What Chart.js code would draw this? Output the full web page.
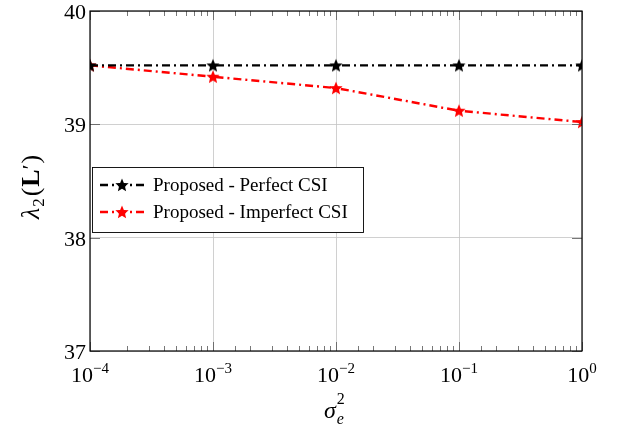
<!DOCTYPE html>
<html lang="en">
<head>
<meta charset="UTF-8">
<title>lambda2 vs sigma_e^2</title>
<script src="https://cdn.jsdelivr.net/npm/chart.js"></script>
<style>
  html, body { margin: 0; padding: 0; background: #fff; }
  #wrap { width: 619px; height: 430px; }
</style>
</head>
<body>
<div id="wrap"><canvas id="chart"></canvas></div>
<script>
// data
const sigmaVals = [1e-4, 1e-3, 1e-2, 1e-1, 1];
const perfectCSI = [39.52, 39.52, 39.52, 39.52, 39.52];
const imperfectCSI = [39.52, 39.42, 39.32, 39.12, 39.02];
const seriesNames = ['Proposed - Perfect CSI', 'Proposed - Imperfect CSI'];
const seriesColors = ['#000000', '#ff0000'];

const SERIF = '"Liberation Serif", "DejaVu Serif", serif';

// filled five point star used as point marker
function makeStar(color, r) {
    let s = Math.ceil(r * 2 + 2);
    let c = document.createElement('canvas');
    c.width = s; c.height = s;
    let g = c.getContext('2d');
    g.fillStyle = color;
    g.beginPath();
    for (let i = 0; i < 10; i++) {
        let a = -Math.PI / 2 + i * Math.PI / 5;
        let rad = (i % 2) ? r * 0.45 : r;
        let px = s / 2 + rad * Math.cos(a), py = s / 2 + 0.5 + rad * Math.sin(a);
        if (i === 0) g.moveTo(px, py); else g.lineTo(px, py);
    }
    g.closePath();
    g.fill();
    return c;
}
const stars = seriesColors.map(c => makeStar(c, 7));
const dashDot = [8, 4, 2, 4];

function isDecade(v) {
    let l = Math.log10(v);
    return Math.abs(l - Math.round(l)) < 1e-9;
}

// draw a run of [text, font, dy] pieces starting at x
function drawPieces(g, pieces, x, y) {
    pieces.forEach(p => {
        g.font = p[1];
        g.fillText(p[0], x, y + (p[2] || 0));
        x += g.measureText(p[0]).width + (p[3] || 0);
    });
}
function piecesWidth(g, pieces) {
    let w = 0;
    pieces.forEach(p => { g.font = p[1]; w += g.measureText(p[0]).width + (p[3] || 0); });
    return w;
}

const decorPlugin = {
    id: 'decor',
    afterDraw(chart) {
        let g = chart.ctx;
        let a = chart.chartArea;
        let xs = chart.scales.x, ys = chart.scales.y;
        g.save();

        // tick marks (inside, both sides)
        g.strokeStyle = '#555';
        g.lineWidth = 0.8;
        xs.ticks.forEach(t => {
            let px = Math.round(xs.getPixelForValue(t.value)) + 0.5;
            let len = isDecade(t.value) ? 9 : 5;
            g.beginPath();
            g.moveTo(px, a.bottom); g.lineTo(px, a.bottom - len);
            g.moveTo(px, a.top); g.lineTo(px, a.top + len);
            g.stroke();
        });
        ys.ticks.forEach(t => {
            let py = Math.round(ys.getPixelForValue(t.value)) + 0.5;
            g.beginPath();
            g.moveTo(a.left, py); g.lineTo(a.left + 10, py);
            g.moveTo(a.right, py); g.lineTo(a.right - 10, py);
            g.stroke();
        });

        // frame
        g.strokeStyle = '#000';
        g.lineWidth = 1.2;
        g.strokeRect(a.left, a.top, a.right - a.left, a.bottom - a.top);

        // tick labels
        g.fillStyle = '#000';
        g.textBaseline = 'alphabetic';
        g.textAlign = 'left';
        xs.ticks.filter(t => isDecade(t.value)).forEach(t => {
            let e = Math.round(Math.log10(t.value));
            let ex = e < 0 ? '\u2212' + (-e) : String(e);
            let pieces = [['10', '22px ' + SERIF, 0], [ex, '15px ' + SERIF, -9]];
            let w = piecesWidth(g, pieces);
            let px = xs.getPixelForValue(t.value);
            drawPieces(g, pieces, px - w / 2, a.bottom + 31);
        });
        g.textAlign = 'right';
        g.font = '22px ' + SERIF;
        ys.ticks.forEach(t => {
            let py = ys.getPixelForValue(t.value);
            g.fillText(String(t.value), a.left - 4, py + 8);
        });

        // x title: sigma_e^2
        g.textAlign = 'left';
        let cx = (a.left + a.right) / 2;
        g.font = 'italic 24px ' + SERIF;
        let sw = g.measureText('\u03c3').width;
        let x0 = cx - 12;
        g.fillText('\u03c3', x0, 418);
        g.font = 'italic 16px ' + SERIF;
        g.fillText('e', x0 + sw + 1, 424);
        g.font = '16px ' + SERIF;
        g.fillText('2', x0 + sw + 1, 404);

        // y title: lambda_2(L')
        g.save();
        g.translate(39, 187);
        g.rotate(-Math.PI / 2);
        let ypieces = [
            ['\u03bb', 'italic 26px ' + SERIF, 0, 1],
            ['2', '17px ' + SERIF, 5, 2],
            ['(', '26px ' + SERIF, 0, 1],
            ['L', 'bold 26px ' + SERIF, 0],
            ['\u2032', '22px ' + SERIF, -2, 1],
            [')', '26px ' + SERIF, 0]
        ];
        let yw = piecesWidth(g, ypieces);
        drawPieces(g, ypieces, -yw / 2, 0);
        g.restore();

        // legend box
        let lx = 92, ly = 167, lw = 271, lh = 65;
        g.fillStyle = '#fff';
        g.fillRect(lx, ly, lw, lh);
        g.strokeStyle = '#000';
        g.lineWidth = 0.9;
        g.strokeRect(lx + 0.5, ly + 0.5, lw, lh);
        chart.data.datasets.forEach((ds, i) => {
            let ry = ly + 18 + i * 27;
            g.strokeStyle = ds.borderColor;
            g.lineWidth = 2.4;
            g.setLineDash(dashDot);
            g.beginPath();
            g.moveTo(lx + 8, ry); g.lineTo(lx + 53, ry);
            g.stroke();
            g.setLineDash([]);
            let st = stars[i];
            g.drawImage(st, lx + 30 - st.width / 2, ry - st.height / 2);
            g.fillStyle = '#000';
            g.font = '19px ' + SERIF;
            g.textAlign = 'left';
            g.fillText(ds.label, lx + 61, ry + 6);
        });

        g.restore();
    }
};

const datasets = [perfectCSI, imperfectCSI].map((vals, i) => ({
    label: seriesNames[i],
    data: sigmaVals.map((s, j) => ({ x: s, y: vals[j] })),
    borderColor: seriesColors[i],
    backgroundColor: seriesColors[i],
    borderWidth: 2.4,
    borderDash: dashDot,
    pointStyle: stars[i],
    pointRadius: 7,
    tension: 0
}));

new Chart(document.getElementById('chart'), {
    type: 'line',
    data: { datasets: datasets },
    options: {
        responsive: true,
        maintainAspectRatio: false,
        animation: false,
        layout: { padding: { top: 11, right: 37, left: 0, bottom: 0 } },
        plugins: {
            legend: { display: false },
            tooltip: { enabled: false }
        },
        scales: {
            x: {
                type: 'logarithmic',
                min: 1e-4,
                max: 1,
                ticks: { display: false },
                border: { display: false },
                grid: {
                    drawTicks: false,
                    lineWidth: 0.8,
                    color: c => (c.tick && isDecade(c.tick.value)) ? '#c4c4c4' : 'rgba(0,0,0,0)'
                },
                afterFit: s => { s.height = 79; }
            },
            y: {
                min: 37,
                max: 40,
                ticks: { display: false, stepSize: 1 },
                border: { display: false },
                grid: { drawTicks: false, lineWidth: 0.8, color: '#c4c4c4' },
                afterFit: s => { s.width = 90; }
            }
        }
    },
    plugins: [decorPlugin]
});
</script>
</body>
</html>
